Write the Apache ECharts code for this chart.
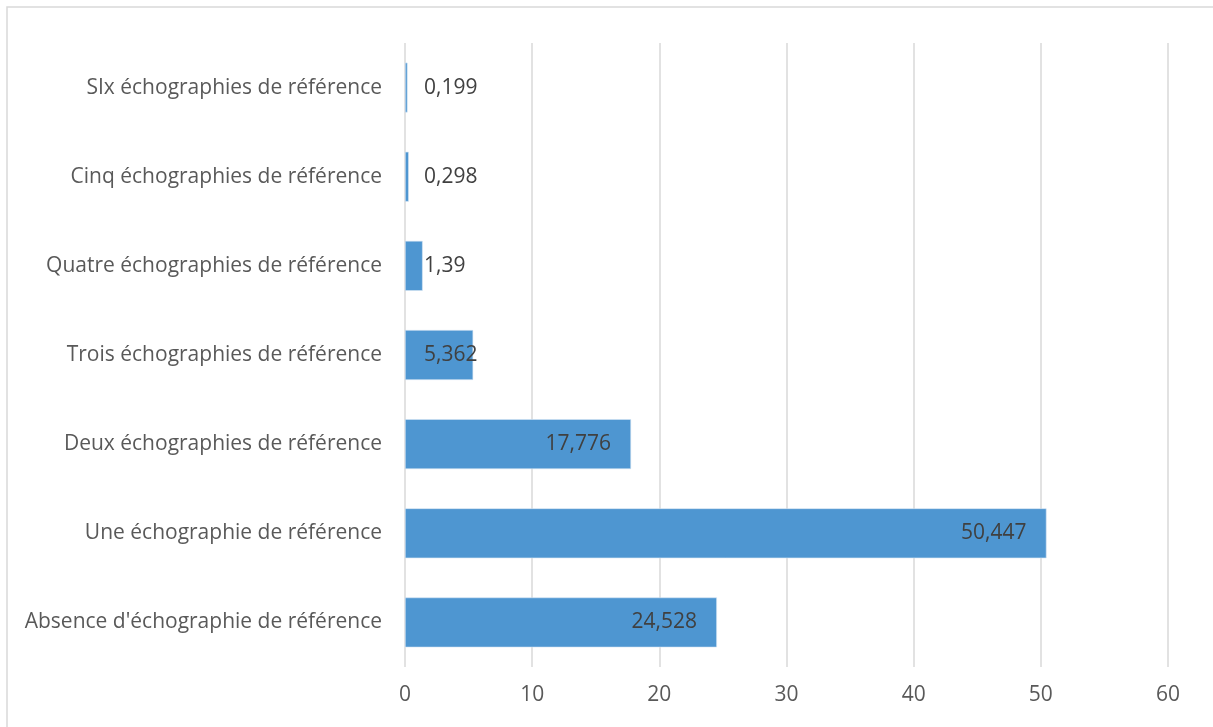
<!DOCTYPE html>
<html><head><meta charset="utf-8">
<script src="https://cdn.jsdelivr.net/npm/echarts@6/dist/echarts.min.js"></script>
<style>html,body{margin:0;padding:0;background:#fff;}#c{width:1213px;height:727px;}</style>
</head><body><div id="c"></div>
<script>
const categories = [
  "Absence d'échographie de référence",
  "Une échographie de référence",
  "Deux échographies de référence",
  "Trois échographies de référence",
  "Quatre échographies de référence",
  "Cinq échographies de référence",
  "SIx échographies de référence"
];
const values = [24.528, 50.447, 17.776, 5.362, 1.39, 0.298, 0.199];
const valueLabels = ["24,528", "50,447", "17,776", "5,362", "1,39", "0,298", "0,199"];
const xTicks = [0, 10, 20, 30, 40, 50, 60];

const chart = echarts.init(document.getElementById('c'), null, {renderer: 'canvas'});
const data = values.map((v, i) => {
  const big = v > 10;
  return {
    value: v,
    label: big
      ? {position: 'insideRight', distance: 20}
      : {position: 'insideLeft', distance: 19}
  };
});
chart.setOption({
  animation: false,
  graphic: [{
    type: 'rect', shape: {x: 7, y: 7, width: 1230, height: 760},
    style: {fill: 'none', stroke: '#d9d9d9', lineWidth: 1.5}, silent: true
  }],
  grid: {left: 405, right: 45, top: 43, bottom: 60, containLabel: false},
  xAxis: {
    type: 'value', min: 0, max: 60, interval: 10,
    axisLine: {show: false}, axisTick: {show: false},
    splitLine: {show: true, lineStyle: {color: '#d9d9d9', width: 1.5}},
    axisLabel: {
      color: '#595959', fontSize: 21, fontFamily: 'Open Sans', margin: 18,
      formatter: v => xTicks.includes(v) ? String(v) : ''
    }
  },
  yAxis: {
    type: 'category', data: categories,
    axisLine: {show: false}, axisTick: {show: false},
    axisLabel: {color: '#595959', fontSize: 21, fontFamily: 'Open Sans', margin: 23, offset: 0}
  },
  series: [{
    type: 'bar', data: data, barWidth: '56%',
    itemStyle: {color: '#4e96d1', borderColor: '#d6e6f4', borderWidth: 0.6},
    label: {
      show: true, color: '#404040', fontSize: 21, fontFamily: 'Open Sans',
      formatter: p => valueLabels[p.dataIndex]
    }
  }]
});
</script></body></html>
